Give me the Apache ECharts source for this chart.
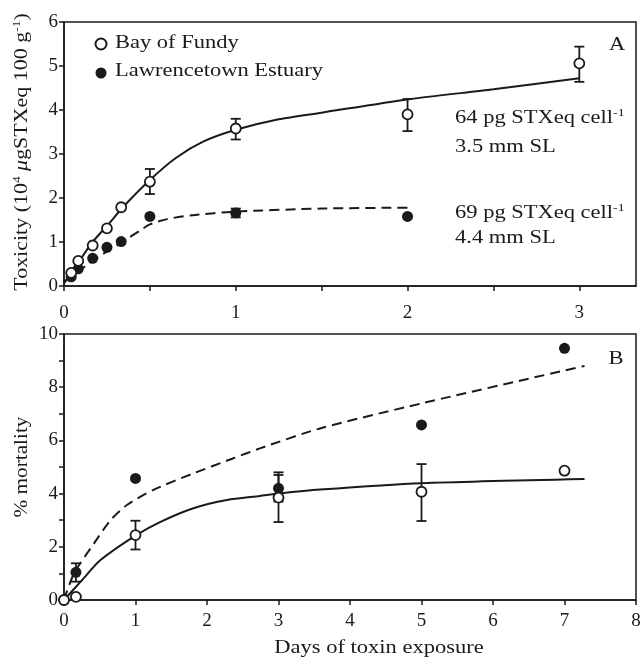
<!DOCTYPE html>
<html>
<head>
<meta charset="utf-8">
<script src="https://cdn.jsdelivr.net/npm/echarts@6/dist/echarts.min.js"></script>
<style>
  html, body { margin: 0; padding: 0; background: #fff; }
  #chart { width: 644px; height: 660px; }
</style>
</head>
<body>
<div id="chart"></div>
<script>
// Panel A: toxin accumulation (10^4 µg STXeq 100 g^-1) vs days
const daysA = [0.042, 0.083, 0.167, 0.25, 0.333, 0.5, 1, 2, 3];
const fundyToxA = [0.30, 0.57, 0.92, 1.31, 1.79, 2.37, 3.58, 3.90, 5.06];
const daysLawA = [0.042, 0.083, 0.167, 0.25, 0.333, 0.5, 1, 2];
const lawToxA = [0.21, 0.39, 0.63, 0.88, 1.01, 1.58, 1.66, 1.58];

// error bars: x, low, high
const fundyErrX_A = [0.5, 1, 2, 3];
const fundyErrLo_A = [2.09, 3.33, 3.52, 4.64];
const fundyErrHi_A = [2.66, 3.80, 4.25, 5.44];
const lawErrX_A = [1];
const lawErrLo_A = [1.56];
const lawErrHi_A = [1.76];

// fitted curves, panel A
const fitFundyX_A = [0, 0.042, 0.16, 0.258, 0.345, 0.5, 0.655, 0.81, 1.0, 1.25, 1.5, 2.0, 2.5, 3.0];
const fitFundyY_A = [0.06, 0.29, 0.97, 1.40, 1.80, 2.41, 2.92, 3.28, 3.55, 3.79, 3.94, 4.24, 4.47, 4.72];
const fitLawX_A = [0, 0.1, 0.2, 0.3, 0.347, 0.45, 0.5, 0.6, 0.75, 1.0, 1.5, 2.0];
const fitLawY_A = [0.1, 0.38, 0.66, 0.9, 1.02, 1.28, 1.4, 1.52, 1.61, 1.69, 1.76, 1.78];

// Panel B: % mortality vs days of toxin exposure
const daysB = [0, 0.167, 1, 3, 5, 7];
const fundyMortB = [0, 0.12, 2.44, 3.85, 4.07, 4.86];
const lawMortB = [0, 1.04, 4.57, 4.2, 6.58, 9.46];

const fundyErrX_B = [1, 3, 5];
const fundyErrLo_B = [1.90, 2.93, 2.97];
const fundyErrHi_B = [2.98, 4.80, 5.11];
const lawErrX_B = [0.167, 3];
const lawErrLo_B = [0.69, 3.70];
const lawErrHi_B = [1.38, 4.70];

const fitFundyX_B = [0, 0.23, 0.51, 1.01, 1.35, 1.81, 2.28, 2.74, 3.0, 3.58, 5.0, 7.28];
const fitFundyY_B = [0, 0.68, 1.5, 2.44, 2.94, 3.45, 3.76, 3.91, 4.0, 4.15, 4.39, 4.55];
const fitLawX_B = [0, 0.14, 0.42, 0.65, 0.88, 1.25, 1.81, 2.37, 2.74, 3.58, 5.0, 7.28];
const fitLawY_B = [0, 1.0, 2.13, 3.0, 3.57, 4.14, 4.76, 5.33, 5.7, 6.45, 7.39, 8.8];

const seriesNames = ['Bay of Fundy', 'Lawrencetown Estuary'];

const FONT = 'Liberation Serif';
const INK = '#1a1a1a';
const WIDE = 1.25; // horizontal stretch of the serif lettering
const zip = (xs, ys) => xs.map((x, i) => [x, ys[i]]);
const zip3 = (xs, lo, hi) => xs.map((x, i) => [x, lo[i], hi[i]]);

function errorBars(gridIdx, data) {
  return {
    type: 'custom',
    xAxisIndex: gridIdx,
    yAxisIndex: gridIdx,
    z: 3,
    silent: true,
    data: data,
    renderItem: function (params, api) {
      const x = api.value(0);
      const lo = api.coord([x, api.value(1)]);
      const hi = api.coord([x, api.value(2)]);
      const w = 5;
      const style = { stroke: INK, lineWidth: 1.8, fill: null };
      return {
        type: 'group',
        children: [
          { type: 'line', shape: { x1: lo[0], y1: lo[1], x2: hi[0], y2: hi[1] }, style: style },
          { type: 'line', shape: { x1: lo[0] - w, y1: lo[1], x2: lo[0] + w, y2: lo[1] }, style: style },
          { type: 'line', shape: { x1: hi[0] - w, y1: hi[1], x2: hi[0] + w, y2: hi[1] }, style: style }
        ]
      };
    }
  };
}

function fitLine(gridIdx, data, dashed) {
  return {
    type: 'line',
    xAxisIndex: gridIdx,
    yAxisIndex: gridIdx,
    data: data,
    smooth: 0.25,
    showSymbol: false,
    silent: true,
    z: 2,
    lineStyle: { color: INK, width: 2, type: dashed ? [10, 6] : 'solid' }
  };
}

function scatter(gridIdx, name, data, open) {
  return {
    type: 'scatter',
    name: name,
    xAxisIndex: gridIdx,
    yAxisIndex: gridIdx,
    data: data,
    symbol: 'circle',
    symbolSize: open ? 10 : 11,
    z: 5,
    silent: true,
    itemStyle: open
      ? { color: '#fff', borderColor: INK, borderWidth: 1.8, opacity: 1 }
      : { color: INK, borderColor: INK, borderWidth: 0, opacity: 1 }
  };
}

function label(x, y, text, extra) {
  return {
    type: 'text', x: x, y: y, scaleX: WIDE, silent: true,
    style: Object.assign({ text: text, fontFamily: FONT, fontSize: 18, fill: INK, align: 'left', verticalAlign: 'middle' }, extra || {})
  };
}

const supRich = {
  t: { fontFamily: FONT, fontSize: 18, fill: INK },
  i: { fontFamily: FONT, fontSize: 18, fontStyle: 'italic', fill: INK },
  s: { fontFamily: FONT, fontSize: 11, fill: INK, padding: [0, 0, 9, 0] }
};

const axisLineStyle = { lineStyle: { color: INK, width: 1.5 } };
const tickStyle = { show: true, inside: false, length: 5, lineStyle: { color: INK, width: 1.5 } };
const labelStyle = { color: INK, fontFamily: FONT, fontSize: 19 };

const chart = echarts.init(document.getElementById('chart'), null, { renderer: 'canvas' });

chart.setOption({
  backgroundColor: '#fff',
  animation: false,
  grid: [
    { left: 64, top: 22, width: 572, height: 264, show: true, borderColor: INK, borderWidth: 1.5, backgroundColor: 'transparent' },
    { left: 64, top: 334, width: 572, height: 266, show: true, borderColor: INK, borderWidth: 1.5, backgroundColor: 'transparent' }
  ],
  xAxis: [
    {
      gridIndex: 0, type: 'value', min: 0, max: 3.33, interval: 0.5,
      axisLine: axisLineStyle, axisTick: tickStyle, splitLine: { show: false },
      axisLabel: Object.assign({}, labelStyle, {
        margin: 18, showMaxLabel: false,
        formatter: v => (Math.abs(v - Math.round(v)) < 1e-6 ? String(Math.round(v)) : '')
      })
    },
    {
      gridIndex: 1, type: 'value', min: 0, max: 8, interval: 1,
      axisLine: axisLineStyle, axisTick: tickStyle, splitLine: { show: false },
      axisLabel: Object.assign({}, labelStyle, { margin: 12 })
    }
  ],
  yAxis: [
    {
      gridIndex: 0, type: 'value', min: 0, max: 6, interval: 1,
      axisLine: axisLineStyle, axisTick: tickStyle, splitLine: { show: false },
      axisLabel: Object.assign({}, labelStyle, { margin: 6 })
    },
    {
      gridIndex: 1, type: 'value', min: 0, max: 10, interval: 1,
      axisLine: axisLineStyle, axisTick: tickStyle, splitLine: { show: false },
      axisLabel: Object.assign({}, labelStyle, {
        margin: 6,
        formatter: v => (v % 2 === 0 ? String(v) : '')
      })
    }
  ],
  legend: {
    data: seriesNames,
    orient: 'vertical',
    left: 94.5,
    top: 37.5,
    padding: 0,
    itemWidth: 11,
    itemHeight: 11,
    itemGap: 17,
    selectedMode: false,
    formatter: () => '',
    textStyle: { fontSize: 1, lineHeight: 1, padding: 0 }
  },
  graphic: [
    label(115, 43, seriesNames[0]),
    label(115, 71, seriesNames[1]),
    label(455, 118, '{t|64 pg STXeq cell}{s|-1}', { rich: supRich }),
    label(455, 147, '3.5 mm SL'),
    label(455, 213, '{t|69 pg STXeq cell}{s|-1}', { rich: supRich }),
    label(455, 238, '4.4 mm SL'),
    label(617, 45, 'A', { align: 'center' }),
    label(616, 359, 'B', { align: 'center' }),
    label(379, 648, 'Days of toxin exposure', { align: 'center' }),
    Object.assign(label(22, 152, '{t|Toxicity (10}{s|4}{t| }{i|μ}{t|gSTXeq 100 g}{s|-1}{t|)}', { rich: supRich, align: 'center' }), { rotation: Math.PI / 2, scaleX: 1.22 }),
    Object.assign(label(22, 467, '% mortality', { align: 'center' }), { rotation: Math.PI / 2, scaleX: 1.18 })
  ],
  series: [
    fitLine(0, zip(fitFundyX_A, fitFundyY_A), false),
    fitLine(0, zip(fitLawX_A, fitLawY_A), true),
    errorBars(0, zip3(fundyErrX_A, fundyErrLo_A, fundyErrHi_A)),
    errorBars(0, zip3(lawErrX_A, lawErrLo_A, lawErrHi_A)),
    scatter(0, seriesNames[1], zip(daysLawA, lawToxA), false),
    scatter(0, seriesNames[0], zip(daysA, fundyToxA), true),

    fitLine(1, zip(fitFundyX_B, fitFundyY_B), false),
    fitLine(1, zip(fitLawX_B, fitLawY_B), true),
    errorBars(1, zip3(lawErrX_B, lawErrLo_B, lawErrHi_B)),
    errorBars(1, zip3(fundyErrX_B, fundyErrLo_B, fundyErrHi_B)),
    scatter(1, seriesNames[1], zip(daysB, lawMortB), false),
    scatter(1, seriesNames[0], zip(daysB, fundyMortB), true)
  ]
});
</script>
</body>
</html>
